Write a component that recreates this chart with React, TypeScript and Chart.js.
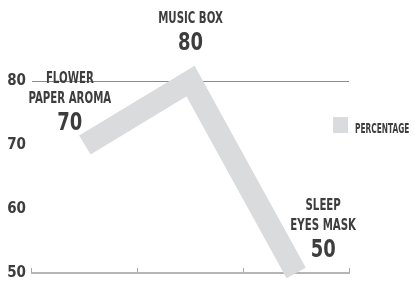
import React, { useEffect, useRef } from "react";
import { Chart, registerables } from "chart.js";

Chart.register(...registerables);

// ---- data ----
const CATEGORIES: string[][] = [["FLOWER", "PAPER AROMA"], ["MUSIC BOX"], ["SLEEP", "EYES MASK"]];
const PERCENTAGE: number[] = [70, 80, 50];
const SERIES_LABEL = "PERCENTAGE";
const Y_TICKS: number[] = [50, 60, 70, 80];

// ---- style ----
const FONT = "'Liberation Sans Narrow', 'DejaVu Sans Condensed', 'Roboto', sans-serif";
const TEXT = "#3d3d3d";
const LINE = "#dadbdd";

function drawCondensed(ctx: CanvasRenderingContext2D, text: string, x: number, y: number, size: number, sx: number, align: CanvasTextAlign) {
  ctx.save();
  ctx.font = `bold ${size}px ${FONT}`;
  ctx.fillStyle = TEXT;
  ctx.textAlign = align;
  ctx.textBaseline = "alphabetic";
  ctx.translate(x, y);
  ctx.scale(sx, 1);
  ctx.fillText(text, 0, 0);
  ctx.restore();
}

const LABEL_OFFSETS = [
  { dx: -15, dy: -15 },
  { dx: 0, dy: -31 },
  { dx: 27, dy: -16 },
];

const pointLabels = {
  id: "pointLabels",
  afterDatasetsDraw(chart: any) {
    const ctx: CanvasRenderingContext2D = chart.ctx;
    const xs = chart.scales.x;
    const ys = chart.scales.y;
    const ds = chart.data.datasets[0];
    (chart.data.labels as string[][]).forEach((lines, i) => {
      const v = ds.data[i] as number;
      const off = LABEL_OFFSETS[i] || { dx: 0, dy: -15 };
      const cx = xs.getPixelForValue(i) + off.dx;
      const numBase = ys.getPixelForValue(v) + off.dy;
      drawCondensed(ctx, String(v), cx, numBase, 25, 0.8, "center");
      const lastBase = numBase - 27;
      lines.forEach((t, k) => {
        const base = lastBase - (lines.length - 1 - k) * 20;
        drawCondensed(ctx, t, cx, base, 16, 0.71, "center");
      });
    });
  },
};

const customLegend = {
  id: "customLegend",
  afterDraw(chart: any) {
    const ctx: CanvasRenderingContext2D = chart.ctx;
    const area = chart.chartArea;
    const ds = chart.data.datasets[0];
    const bx = area.right - 16;
    const by = area.top + 36;
    ctx.save();
    ctx.fillStyle = ds.borderColor as string;
    ctx.fillRect(bx, by, 15, 16);
    ctx.restore();
    drawCondensed(ctx, ds.label as string, bx + 22, by + 16, 14, 0.59, "left");
  },
};

export default function App() {
  const ref = useRef<HTMLCanvasElement | null>(null);

  useEffect(() => {
    if (!ref.current) return;
    const chart = new Chart(ref.current, {
      type: "line",
      data: {
        labels: CATEGORIES as any,
        datasets: [
          {
            label: SERIES_LABEL,
            data: PERCENTAGE,
            borderColor: LINE,
            backgroundColor: LINE,
            borderWidth: 22,
            pointRadius: 0,
            pointHoverRadius: 0,
            borderJoinStyle: "miter",
            borderCapStyle: "butt",
            tension: 0,
            fill: false,
            clip: false as any,
          },
        ],
      },
      options: {
        responsive: false,
        animation: false,
        events: [],
        layout: { padding: { top: 81, right: 66, bottom: 8, left: 0 } },
        plugins: {
          legend: { display: false },
          tooltip: { enabled: false },
        },
        scales: {
          x: {
            type: "category",
            offset: true,
            grid: {
              offset: true,
              drawOnChartArea: false,
              drawTicks: true,
              tickLength: -5,
              color: "#a8a8a8",
              lineWidth: 1,
            },
            border: { display: true, color: "#b5b5b5", width: 2 },
            ticks: { display: false },
            afterFit: (s: any) => {
              s.height = 0;
            },
          },
          y: {
            min: 50,
            max: 80,
            afterBuildTicks: (s: any) => {
              s.ticks = Y_TICKS.map((v) => ({ value: v }));
            },
            grid: {
              drawTicks: false,
              lineWidth: 1,
              color: (c: any) => (c.tick && c.tick.value === 80 ? "#8a8a8a" : "rgba(0,0,0,0)"),
            },
            border: { display: false },
            ticks: {
              color: TEXT,
              padding: 6,
              font: { family: FONT, size: 15, weight: "bold", lineHeight: 0.2 },
            },
            afterFit: (s: any) => {
              s.width = 32;
            },
          },
        },
      },
      plugins: [pointLabels, customLegend],
    });
    return () => chart.destroy();
  }, []);

  return (
    <div style={{ position: "fixed", left: 0, top: 0, width: 415, height: 281, background: "#ffffff" }}>
      <canvas ref={ref} width={415} height={281} style={{ display: "block" }} />
    </div>
  );
}
